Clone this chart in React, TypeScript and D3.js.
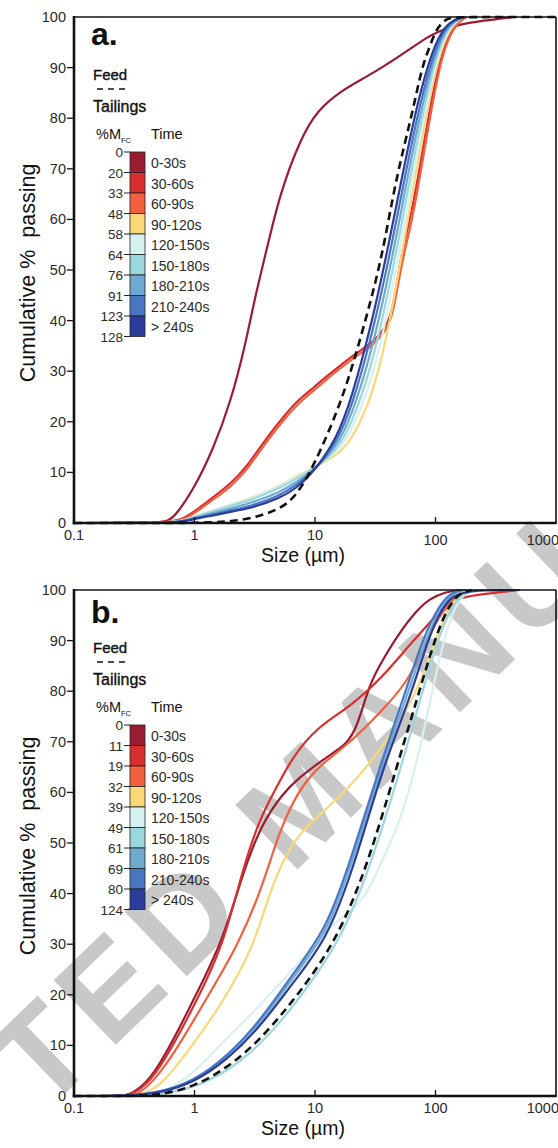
import React from 'react';
import * as d3 from 'd3';

type Pt = [number, number];

// ---- shared axis definitions ----
const sizeTicks = [0.1, 1, 10, 100, 1000];
const sizeTickLabels = ['0.1', '1', '10', '100', '1000'];
const passTicks = [0, 10, 20, 30, 40, 50, 60, 70, 80, 90, 100];

// ---- flotation time bins ----
const timeBins = ['0-30s', '30-60s', '60-90s', '90-120s', '120-150s', '150-180s', '180-210s', '210-240s', '> 240s'];
const binColors = ['#9b1b33', '#d92e2e', '#f2603f', '#fad877', '#d7f0f0', '#9bd7de', '#6ea9cf', '#4876c2', '#2c3c9a'];

// cumulative mass of froth concentrate (%M_FC) at each bin boundary
const mfcA = ['0', '20', '33', '48', '58', '64', '76', '91', '123', '128'];
const mfcB = ['0', '11', '19', '32', '39', '49', '61', '69', '80', '124'];

// ---- panel a: particle size (µm) vs cumulative % passing ----
const feedA: Pt[] = [[0.1, 0], [0.8, 0], [1, 0.05], [1.5, 0.15], [2, 0.35], [3, 0.9], [5, 2.6], [7, 5.2], [10, 11.8], [15, 21.5], [20, 30], [30, 45], [37, 54.3], [44.6, 65], [53.8, 73.7], [65, 81.6], [77, 90], [89, 94], [103, 98], [125, 99.8], [150, 100], [1000, 100]];
const a0: Pt[] = [[0.1, 0], [0.5, 0], [0.6, 0.4], [0.7, 1.5], [1, 7], [1.42, 14.4], [2, 24], [2.62, 34.8], [3.2, 45], [4, 54.3], [5.1, 65], [7.5, 75.7], [10.4, 81.6], [17, 85.6], [25, 87.8], [36.6, 90.1], [60, 93.5], [85, 96], [107, 97.2], [148, 98.4], [250, 99.3], [450, 100]];
const a1: Pt[] = [[0.1, 0], [0.6, 0], [0.8, 0.8], [1, 2.2], [1.5, 5.5], [2, 7.8], [2.7, 11], [4, 17], [5.8, 21.7], [7, 24], [10, 27], [12.5, 29], [15, 30.5], [22, 33.6], [30, 35.6], [39, 38.7], [44, 42], [50, 50.5], [55, 55.5], [65, 62.5], [80, 75], [100, 88], [120, 95], [150, 99], [180, 100]];
const a2: Pt[] = [[0.1, 0], [0.62, 0], [0.8, 0.6], [1, 1.9], [1.5, 5], [2, 7.2], [2.7, 10.3], [4, 16.3], [5.8, 21], [7, 23.3], [10, 26.4], [12.5, 28.4], [15, 30], [22, 33], [30, 35], [39, 38], [44, 41], [50, 48.5], [55, 53.5], [65, 60.5], [80, 73], [100, 86.5], [120, 94.5], [150, 98.8], [180, 100]];
const a3: Pt[] = [[0.1, 0], [0.6, 0], [0.8, 0.4], [1, 1.3], [1.5, 2.7], [2, 3.6], [3, 5], [5, 7.2], [7, 9.2], [10, 11.1], [15, 13.3], [20, 16.2], [30, 25], [40, 37.5], [50, 50], [70, 70.5], [100, 90.5], [130, 98], [170, 100]];
const a4: Pt[] = [[0.1, 0], [0.6, 0], [0.8, 0.4], [1, 1.3], [1.5, 2.7], [2, 3.6], [3, 4.9], [5, 7.1], [7, 9], [10, 11], [15, 13.8], [20, 17.8], [30, 28.5], [40, 41.5], [50, 53.5], [70, 73], [100, 91.5], [130, 98.3], [170, 100]];
const a5: Pt[] = [[0.1, 0], [0.6, 0], [0.8, 0.4], [1, 1.2], [1.5, 2.5], [2, 3.4], [3, 4.6], [5, 6.8], [7, 8.7], [10, 10.8], [15, 14.3], [20, 19.2], [30, 31.5], [40, 45], [50, 56.5], [70, 75.5], [100, 92.5], [130, 98.5], [170, 100]];
const a6: Pt[] = [[0.1, 0], [0.6, 0], [0.8, 0.3], [1, 1], [1.5, 2.1], [2, 2.9], [3, 4], [5, 6], [7, 8], [10, 10.6], [15, 15], [20, 20.8], [30, 34.5], [40, 48], [50, 59.5], [70, 78], [100, 93.5], [130, 98.8], [170, 100]];
const a7: Pt[] = [[0.1, 0], [0.6, 0], [0.8, 0.3], [1, 0.9], [1.5, 1.8], [2, 2.5], [3, 3.4], [5, 5.3], [7, 7.4], [10, 10.5], [15, 15.8], [20, 22.5], [30, 37.5], [40, 51], [50, 62.5], [70, 80.5], [100, 94.5], [130, 99], [170, 100]];
const a8: Pt[] = [[0.1, 0], [0.6, 0], [0.8, 0.3], [1, 0.8], [1.5, 1.6], [2, 2.2], [3, 3], [5, 4.8], [7, 6.8], [10, 10.4], [15, 16.5], [20, 24.3], [30, 40], [40, 54], [50, 65.5], [70, 83], [100, 95.5], [130, 99.2], [170, 100]];

// ---- panel b ----
const feedB: Pt[] = [[0.1, 0], [0.3, 0], [0.52, 0.2], [0.98, 1.8], [1.86, 5.5], [3.5, 11], [7.5, 20.4], [15.1, 30.8], [27, 45.2], [47.6, 65], [70, 78.3], [102, 91.5], [130, 97], [160, 99.5], [200, 100]];
const b0: Pt[] = [[0.1, 0], [0.25, 0], [0.3, 0.3], [0.43, 3.2], [0.625, 9.7], [1.05, 20.4], [1.72, 30.8], [2.52, 44], [3.5, 53.2], [5.4, 59.9], [7.5, 63], [10, 65.3], [14.1, 67.8], [18, 69.5], [22.2, 72.5], [28.4, 81.6], [36.5, 86.2], [50, 91.5], [70, 96], [90, 98.3], [120, 99.6], [160, 100]];
const b1: Pt[] = [[0.1, 0], [0.25, 0], [0.3, 0.2], [0.43, 2.8], [0.625, 8.8], [1, 18], [1.72, 29.4], [2.52, 45], [3.5, 55], [4.8, 61], [6.5, 67], [10.4, 72.9], [19.5, 76.9], [36.5, 82.8], [60, 89], [89.5, 93.5], [120, 97], [160, 98.5], [250, 99.2], [500, 100]];
const b2: Pt[] = [[0.1, 0], [0.28, 0], [0.33, 0.2], [0.45, 2.6], [0.71, 9.1], [1.34, 20.4], [2.24, 29.4], [3.5, 40], [4.8, 50.6], [6.2, 57.1], [8.5, 62.5], [11.6, 65.8], [19.5, 69.8], [36.5, 76.3], [57.5, 81.6], [80, 88.5], [102, 94], [130, 97.5], [170, 99.5], [220, 100]];
const b3: Pt[] = [[0.1, 0], [0.3, 0], [0.35, 0.2], [0.52, 1.8], [0.865, 8.5], [1.62, 17.6], [2.3, 24], [3.1, 30], [4.2, 40], [5.4, 46.6], [7.5, 52], [10.4, 55.1], [19.5, 61], [36.5, 69], [61, 77], [85, 85], [110, 93], [140, 98], [180, 99.8], [230, 100]];
const b4: Pt[] = [[0.1, 0], [0.3, 0], [0.52, 0.6], [0.865, 3.2], [1.62, 10], [2.5, 14.5], [3.5, 18], [6, 24], [9.6, 29.5], [11.6, 32], [15, 34.5], [25.7, 38.5], [35, 46], [51, 54], [70, 66], [85, 75], [100, 83], [120, 91], [141, 96], [170, 99.3], [220, 100]];
const b5: Pt[] = [[0.1, 0], [0.3, 0], [0.52, 0.3], [0.98, 1.6], [1.86, 4.8], [3.5, 10], [6.5, 17.5], [10, 23.5], [17, 32], [27, 43.5], [47.6, 62], [70, 76], [100, 89], [130, 96], [170, 99.5], [220, 100]];
const b6: Pt[] = [[0.1, 0], [0.28, 0], [0.52, 0.6], [0.98, 2.8], [1.86, 7.5], [3.5, 14.3], [6.5, 23.3], [12.5, 32], [20, 45.5], [35, 64.5], [56, 78], [85, 91], [115, 97.5], [150, 99.8], [180, 100]];
const b7: Pt[] = [[0.1, 0], [0.28, 0], [0.52, 0.7], [0.98, 2.9], [1.86, 7.8], [3.5, 14.8], [6.5, 24], [12.5, 33], [20, 47], [34.4, 65], [53.5, 78.3], [80, 91], [110, 97.5], [140, 99.7], [170, 100]];
const b8: Pt[] = [[0.1, 0], [0.28, 0], [0.52, 0.6], [0.98, 2.6], [1.86, 7.1], [3.5, 13.6], [6.5, 22.3], [12.5, 30.8], [21, 45.2], [36.5, 65], [61, 78.3], [89.5, 91.5], [120, 97.5], [160, 100], [500, 100]];

const seriesA = [a0, a1, a2, a3, a4, a5, a6, a7, a8];
const seriesB = [b0, b1, b2, b3, b4, b5, b6, b7, b8];

const FONT = '"Liberation Sans", Arial, Helvetica, sans-serif';
const LEFT = 74;
const RIGHT = 556;

type PanelProps = {
  top: number;
  bottom: number;
  tag: string;
  series: Pt[][];
  feed: Pt[];
  mfc: string[];
  lowerBigLabels: boolean;
};

function Panel({ top, bottom, tag, series, feed, mfc, lowerBigLabels }: PanelProps) {
  const x = d3.scaleLog().domain([0.1, 1000]).range([LEFT, RIGHT]);
  const y = d3.scaleLinear().domain([0, 100]).range([bottom, top]);
  const line = d3
    .line<Pt>()
    .x((d) => x(d[0]))
    .y((d) => y(d[1]))
    .curve(d3.curveBasis);

  const barX = 130;
  const barW = 15;
  const barTop = top + 135;
  const segH = 20.5;
  const bar = d3.scaleLinear().domain([0, timeBins.length]).range([barTop, barTop + segH * timeBins.length]);

  return (
    <g>
      {/* curves */}
      {series.map((s, i) => (
        <path key={i} d={line(s) || ''} fill="none" stroke={binColors[i]} strokeWidth={2.2} strokeLinejoin="round" />
      ))}
      <path d={line(feed) || ''} fill="none" stroke="#111" strokeWidth={2.6} strokeDasharray="8 5" />

      {/* frame */}
      <line x1={LEFT} x2={RIGHT} y1={top} y2={top} stroke="#111" strokeWidth={1.6} />
      <line x1={RIGHT} x2={RIGHT} y1={top} y2={bottom} stroke="#111" strokeWidth={1.6} />
      <line x1={LEFT} x2={LEFT} y1={top - 1} y2={bottom + 1.3} stroke="#111" strokeWidth={2.6} />
      <line x1={LEFT - 1.3} x2={RIGHT + 0.8} y1={bottom} y2={bottom} stroke="#111" strokeWidth={2.6} />

      {/* y axis */}
      {passTicks.map((t) => (
        <g key={t}>
          {t > 0 && t < 100 && <line x1={LEFT - 7} x2={LEFT} y1={y(t)} y2={y(t)} stroke="#111" strokeWidth={1.3} />}
          <text x={LEFT - 8} y={y(t) + 5} textAnchor="end" fontSize={14.5} fontFamily={FONT} fill="#2a2a2a">
            {t}
          </text>
        </g>
      ))}

      {/* x axis */}
      {sizeTicks.map((t, i) => {
        const big = t >= 100 && lowerBigLabels;
        const px = t === 1000 ? RIGHT + 3 : x(t);
        return (
          <g key={t}>
            {t > 0.1 && t < 1000 && <line x1={x(t)} x2={x(t)} y1={bottom} y2={bottom - 6} stroke="#111" strokeWidth={1.3} />}
            <text
              x={px}
              y={bottom + (big ? 22 : 17)}
              textAnchor={t === 1000 ? 'end' : 'middle'}
              fontSize={14.5}
              fontFamily={FONT}
              fill="#2a2a2a"
            >
              {sizeTickLabels[i]}
            </text>
          </g>
        );
      })}

      {/* axis titles */}
      <text x={303} y={bottom + 39} textAnchor="middle" fontSize={19.5} fontFamily={FONT} fill="#111">
        Size (µm)
      </text>
      <text
        transform={`translate(35,${(top + bottom) / 2 + 3}) rotate(-90)`}
        textAnchor="middle"
        fontSize={21.5}
        fontFamily={FONT}
        fill="#111"
        style={{ whiteSpace: 'pre' }}
      >
        {'Cumulative %  passing'}
      </text>

      {/* panel tag */}
      <text x={91} y={top + (tag === 'b.' ? 33 : 28)} fontSize={32} fontWeight="bold" fontFamily={FONT} fill="#111">
        {tag}
      </text>

      {/* legend: feed / tailings */}
      <text x={93} y={top + 63} fontSize={15} fontFamily={FONT} fill="#111" stroke="#111" strokeWidth={0.35}>
        Feed
      </text>
      <line x1={97} x2={126} y1={top + 72} y2={top + 72} stroke="#111" strokeWidth={1.6} strokeDasharray="6 5" />
      <text x={93} y={top + 95} fontSize={16} fontFamily={FONT} fill="#111" stroke="#111" strokeWidth={0.35}>
        Tailings
      </text>
      <text x={96} y={top + 122} fontSize={14.5} fontFamily={FONT} fill="#111">
        %M
        <tspan fontSize={7.5} dy={4}>
          FC
        </tspan>
      </text>
      <text x={151} y={top + 122} fontSize={14.5} fontFamily={FONT} fill="#111">
        Time
      </text>

      {/* colour bar */}
      {timeBins.map((label, i) => (
        <g key={label}>
          <rect x={barX} y={bar(i)} width={barW} height={segH} fill={binColors[i]} stroke="#222" strokeWidth={0.8} />
          <text x={151} y={bar(i) + segH / 2 + 6} fontSize={14} fontFamily={FONT} fill="#2a2a2a">
            {label}
          </text>
        </g>
      ))}
      {mfc.map((m, i) => (
        <g key={i}>
          <line x1={barX - 6} x2={barX} y1={bar(i)} y2={bar(i)} stroke="#222" strokeWidth={1} />
          <text x={barX - 7} y={bar(i) + 5} textAnchor="end" fontSize={13.5} fontFamily={FONT} fill="#2a2a2a">
            {m}
          </text>
        </g>
      ))}
    </g>
  );
}

export default function App() {
  return (
    <svg
      width={558}
      height={1148}
      viewBox="0 0 558 1148"
      style={{ position: 'absolute', left: 0, top: 0, background: '#fff' }}
    >
      <rect width={558} height={1148} fill="#fff" />
      <text
        x={337}
        y={831}
        transform="rotate(-44 337 831)"
        textAnchor="middle"
        fontSize={130}
        fontWeight="bold"
        fontFamily={FONT}
        fill="#c8c8c9"
        letterSpacing={12}
      >
        ACCEPTED MANUSCRIPT
      </text>
      <Panel top={17} bottom={523} tag="a." series={seriesA} feed={feedA} mfc={mfcA} lowerBigLabels={true} />
      <Panel top={590} bottom={1096} tag="b." series={seriesB} feed={feedB} mfc={mfcB} lowerBigLabels={false} />
    </svg>
  );
}
